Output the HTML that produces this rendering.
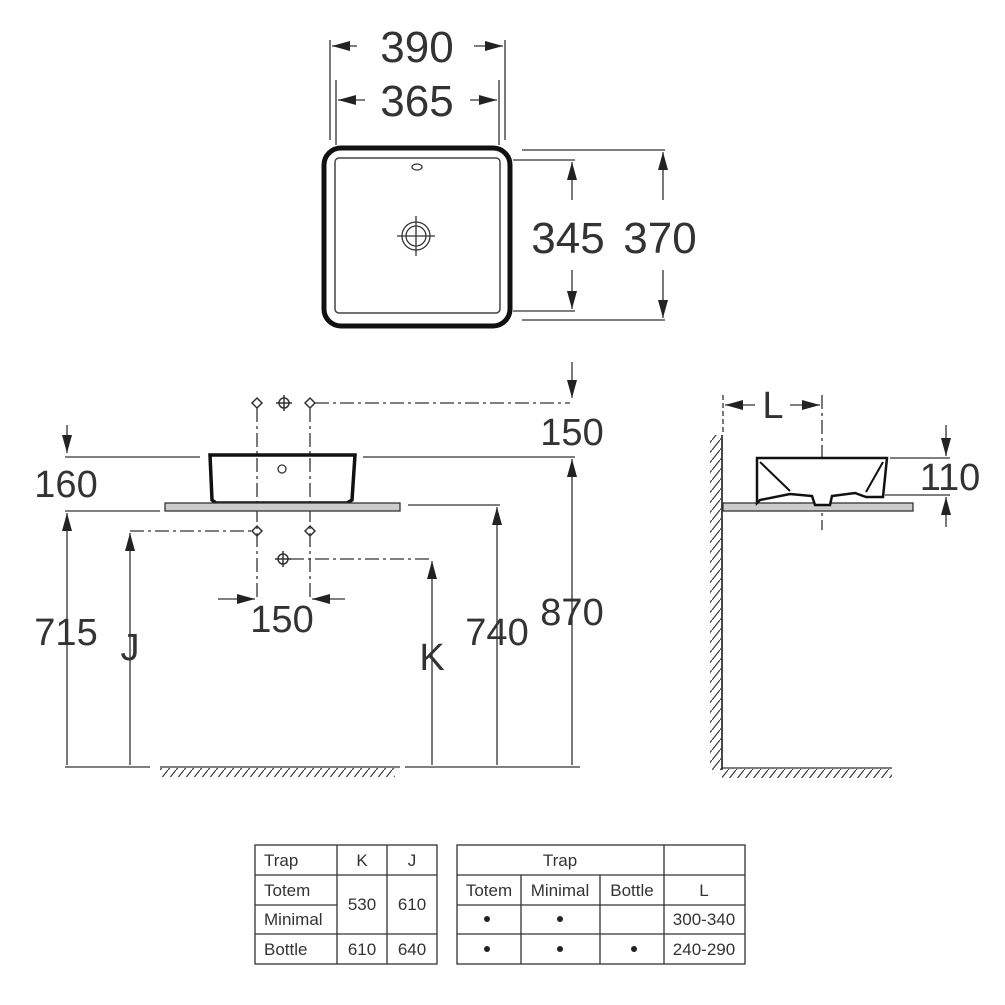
<!DOCTYPE html>
<html><head><style>
html,body{margin:0;padding:0;background:#fff}
svg{display:block}
text{font-family:"Liberation Sans",sans-serif;fill:#333}
.big{font-size:44px}
.mid{font-size:38px}
.tb{font-size:17px}
</style></head><body>
<svg width="1005" height="1005" viewBox="0 0 1005 1005">
<defs>
<marker id="ah" markerWidth="18" markerHeight="10" refX="18" refY="5" orient="auto" markerUnits="userSpaceOnUse"><path d="M0,0 L18,5 L0,10 z" fill="#222"/></marker>
<pattern id="hatch" width="8" height="10" patternUnits="userSpaceOnUse"><path d="M0,10 L8,0" stroke="#444" stroke-width="1.3"/></pattern>
</defs>
<g stroke="#333" stroke-width="1.3" fill="none">
<line x1="330" y1="40" x2="330" y2="140"/><line x1="505" y1="40" x2="505" y2="140"/>
<line x1="336" y1="80" x2="336" y2="145"/><line x1="499" y1="80" x2="499" y2="145"/>
<line x1="357" y1="46" x2="332" y2="46" marker-end="url(#ah)"/><line x1="474" y1="46" x2="503" y2="46" marker-end="url(#ah)"/>
<line x1="365" y1="100" x2="338" y2="100" marker-end="url(#ah)"/><line x1="470" y1="100" x2="497" y2="100" marker-end="url(#ah)"/>
<rect x="324" y="148" width="186" height="178" rx="17" stroke="#111" stroke-width="5"/>
<rect x="335" y="158" width="165" height="155" rx="4" stroke="#444" stroke-width="1.5"/>
<ellipse cx="417" cy="167" rx="5" ry="3"/>
<circle cx="416" cy="236" r="14"/><circle cx="416" cy="236" r="10"/>
<line x1="397" y1="236" x2="435" y2="236"/><line x1="416" y1="216" x2="416" y2="256"/>
<line x1="522" y1="150" x2="665" y2="150"/><line x1="522" y1="320" x2="665" y2="320"/>
<line x1="513" y1="160" x2="575" y2="160"/><line x1="513" y1="311" x2="575" y2="311"/>
<line x1="572" y1="200" x2="572" y2="162" marker-end="url(#ah)"/><line x1="572" y1="270" x2="572" y2="309" marker-end="url(#ah)"/>
<line x1="663" y1="200" x2="663" y2="152" marker-end="url(#ah)"/><line x1="663" y1="270" x2="663" y2="318" marker-end="url(#ah)"/>
<line x1="572" y1="362" x2="572" y2="398" marker-end="url(#ah)"/>
<g stroke-dasharray="14,4,3,4"><line x1="315" y1="403" x2="570" y2="403"/>
<line x1="257" y1="408" x2="257" y2="600"/><line x1="310" y1="408" x2="310" y2="600"/>
<line x1="130" y1="531" x2="253" y2="531"/><line x1="290" y1="559" x2="432" y2="559"/></g>
<g stroke-width="1.5">
<path d="M252,403 l5,-5 l5,5 l-5,5 z"/><path d="M305,403 l5,-5 l5,5 l-5,5 z"/><circle cx="284" cy="403" r="5"/><path d="M276,403h16M284,395v16"/>
<path d="M252,531 l5,-5 l5,5 l-5,5 z"/><path d="M305,531 l5,-5 l5,5 l-5,5 z"/><circle cx="283" cy="559" r="5"/><path d="M275,559h16M283,551v16"/>
</g>
<line x1="65" y1="457" x2="200" y2="457"/><line x1="363" y1="457" x2="575" y2="457"/>
<path d="M210,455 L355,455 L352,500 L347,503 L216,503 L212,500 Z" stroke="#111" stroke-width="3.5"/>
<circle cx="282" cy="469" r="4"/>
<rect x="165" y="503" width="235" height="8" fill="#ccc" stroke="#333"/>
<line x1="65" y1="511" x2="160" y2="511"/><line x1="408" y1="505" x2="500" y2="505"/>
<line x1="67" y1="425" x2="67" y2="453" marker-end="url(#ah)"/>
<line x1="67" y1="765" x2="67" y2="513" marker-end="url(#ah)"/>
<line x1="130" y1="765" x2="130" y2="533" marker-end="url(#ah)"/>
<line x1="432" y1="765" x2="432" y2="561" marker-end="url(#ah)"/>
<line x1="497" y1="765" x2="497" y2="507" marker-end="url(#ah)"/>
<line x1="572" y1="765" x2="572" y2="459" marker-end="url(#ah)"/>
<line x1="218" y1="599" x2="255" y2="599" marker-end="url(#ah)"/><line x1="345" y1="599" x2="312" y2="599" marker-end="url(#ah)"/>
<line x1="65" y1="767" x2="150" y2="767"/><line x1="160" y1="767" x2="400" y2="767"/><line x1="405" y1="767" x2="580" y2="767"/>
<rect x="160" y="768" width="235" height="9" fill="url(#hatch)" stroke="none"/>
<line x1="723" y1="395" x2="723" y2="435" stroke-dasharray="5,3"/>
<line x1="822" y1="395" x2="822" y2="530" stroke-dasharray="14,4,3,4"/>
<line x1="755" y1="405" x2="725" y2="405" marker-end="url(#ah)"/><line x1="790" y1="405" x2="820" y2="405" marker-end="url(#ah)"/>
<line x1="722" y1="435" x2="722" y2="770" stroke-width="1.8"/>
<rect x="710" y="435" width="11" height="335" fill="url(#hatch)" stroke="none"/>
<line x1="722" y1="768" x2="892" y2="768"/>
<rect x="722" y="769" width="170" height="9" fill="url(#hatch)" stroke="none"/>
<rect x="723" y="503" width="190" height="8" fill="#ccc" stroke="#333"/>
<path d="M757,458 L887,458 L883,497 L866,497 L855,493 L832,496 L830,505 L815,505 L812,496 L790,494 L760,500 L757,503 Z" fill="#fff" stroke="#111" stroke-width="2.5"/>
<path d="M760,462 L790,491 M883,462 L866,492" stroke="#111" stroke-width="2"/>
<line x1="890" y1="458" x2="950" y2="458"/><line x1="885" y1="495" x2="950" y2="495"/>
<line x1="946" y1="425" x2="946" y2="456" marker-end="url(#ah)"/><line x1="946" y1="527" x2="946" y2="497" marker-end="url(#ah)"/>
<rect x="255" y="845" width="182" height="119"/>
<line x1="255" y1="875" x2="437" y2="875"/><line x1="255" y1="905" x2="337" y2="905"/><line x1="255" y1="934" x2="437" y2="934"/>
<line x1="337" y1="845" x2="337" y2="964"/><line x1="387" y1="845" x2="387" y2="964"/>
<rect x="457" y="845" width="288" height="119"/>
<line x1="457" y1="875" x2="745" y2="875"/><line x1="457" y1="905" x2="745" y2="905"/><line x1="457" y1="934" x2="745" y2="934"/>
<line x1="664" y1="845" x2="664" y2="964"/><line x1="521" y1="875" x2="521" y2="964"/><line x1="600" y1="875" x2="600" y2="964"/>
</g>
<g fill="#222"><circle cx="487" cy="919" r="3"/><circle cx="560" cy="919" r="3"/><circle cx="487" cy="949" r="3"/><circle cx="560" cy="949" r="3"/><circle cx="634" cy="949" r="3"/></g>
<g class="big" text-anchor="middle">
<text x="417" y="62">390</text><text x="417" y="116">365</text>
<text x="568" y="253">345</text><text x="660" y="253">370</text>
</g>
<g class="mid" text-anchor="middle">
<text x="572" y="445">150</text><text x="66" y="497">160</text>
<text x="66" y="645">715</text><text x="130" y="660">J</text>
<text x="282" y="632">150</text><text x="432" y="670">K</text>
<text x="497" y="645">740</text><text x="572" y="625">870</text>
<text x="773" y="418">L</text><text x="950" y="490">110</text>
</g>
<g class="tb">
<text x="264" y="866">Trap</text><text x="264" y="896">Totem</text><text x="264" y="925">Minimal</text><text x="264" y="955">Bottle</text>
<g text-anchor="middle"><text x="362" y="866">K</text><text x="412" y="866">J</text>
<text x="362" y="910">530</text><text x="412" y="910">610</text><text x="362" y="955">610</text><text x="412" y="955">640</text>
<text x="560" y="866">Trap</text><text x="489" y="896">Totem</text><text x="560" y="896">Minimal</text><text x="632" y="896">Bottle</text>
<text x="704" y="896">L</text><text x="704" y="925">300-340</text><text x="704" y="955">240-290</text></g>
</g>
</svg>
</body></html>
